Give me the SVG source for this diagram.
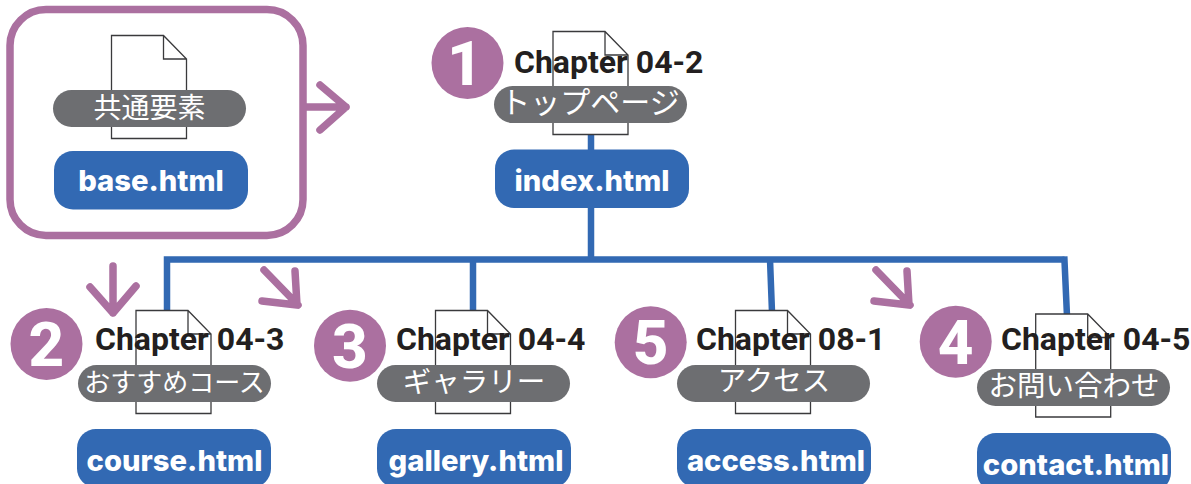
<svg xmlns="http://www.w3.org/2000/svg" width="1191" height="484" viewBox="0 0 1191 484">
<style>
.conn{fill:none;stroke:#3269b3;stroke-width:6.5}
.arr{fill:none;stroke:#ab70a0;stroke-width:7.500;stroke-linecap:round;stroke-linejoin:round}
.frame{fill:#fff;stroke:#ab70a0;stroke-width:7.500}
.doc{fill:#fff;stroke:#3a3a3c;stroke-width:1.300}
.pill{fill:#6d6e71}
.blue{fill:#3269b3}
.dot{fill:#ab70a0}
.num{font:800 62px Roboto,"Liberation Sans",sans-serif;fill:#fff;text-anchor:middle}
.ch{font:700 32px Roboto,"Liberation Sans",sans-serif;fill:#231f20}
.jp{font:400 28px "Noto Sans CJK JP",sans-serif;fill:#fff;text-anchor:middle}
.file{font:800 29.200px Inter,"Liberation Sans",sans-serif;fill:#fff;text-anchor:middle}
</style>
<defs>
<path id="d" class="doc" d="M0 0H52L75 23.500V103H0ZM52 0V23.500H75"/>
<rect id="p" class="pill" width="193" height="37" rx="18.500"/>
<rect id="b" class="blue" width="194" height="58.500" rx="19"/>
</defs>
<g id="connectors">
<path class="conn" d="M591 134V259.500M167 259.500H1064.500M167 256.300V312M473 259.500V312M770 259.500L772 312M1064.300 256.300L1067 316"/>
<path class="arr" d="M299 107H346M320 85L346 107L320 130"/>
<path class="arr" d="M113 266V313M90 287L113 313L136 286"/>
<path class="arr" d="M264 270L298 305M295 271L297 305L262 301"/>
<path class="arr" d="M876 270L910 305M907 271L909 305L874 301"/>
</g>
<g id="common">
<rect class="frame" x="10" y="9.500" width="293" height="226" rx="36"/>
<use href="#d" x="111.500" y="35.500"/>
<use href="#p" x="53" y="90"/>
<text class="jp" x="149.500" y="118">共通要素</text>
<use href="#b" x="54" y="151"/>
<text class="file" x="151" y="191">base.html</text>
</g>
<g id="index">
<circle class="dot" cx="467.500" cy="63" r="36"/>
<text class="num" x="465" y="85">1</text>
<use href="#d" x="553" y="31.500"/>
<text class="ch" x="514" y="73">Chapter 04-2</text>
<use href="#p" x="494" y="86"/>
<text class="jp" x="590" y="113" style="font-size:30px">トップページ</text>
<use href="#b" x="495" y="149.500"/>
<text class="file" x="592" y="191">index.html</text>
</g>
<g id="course">
<circle class="dot" cx="46.500" cy="344" r="36"/>
<text class="num" x="46.500" y="366">2</text>
<use href="#d" x="136" y="310.500"/>
<text class="ch" x="95" y="350">Chapter 04-3</text>
<use href="#p" x="78" y="365"/>
<text class="jp" x="174.500" y="392" style="font-size:26px">おすすめコース</text>
<use href="#b" x="77" y="429"/>
<text class="file" x="174.500" y="471">course.html</text>
</g>
<g id="gallery">
<circle class="dot" cx="350" cy="345.700" r="36"/>
<text class="num" x="350" y="367.700">3</text>
<use href="#d" x="435.500" y="310.500"/>
<text class="ch" x="396" y="350">Chapter 04-4</text>
<use href="#p" x="377" y="365"/>
<text class="jp" x="474" y="392" style="font-size:28.500px">ギャラリー</text>
<use href="#b" x="377" y="429"/>
<text class="file" x="476" y="471">gallery.html</text>
</g>
<g id="access">
<circle class="dot" cx="650.700" cy="342.300" r="36"/>
<text class="num" x="650.700" y="364.300">5</text>
<use href="#d" x="735.500" y="310.500"/>
<text class="ch" x="696" y="350">Chapter 08-1</text>
<use href="#p" x="677" y="365"/>
<text class="jp" x="774" y="391" style="font-size:28.500px">アクセス</text>
<use href="#b" x="677" y="429"/>
<text class="file" x="776" y="471">access.html</text>
</g>
<g id="contact">
<circle class="dot" cx="955.700" cy="341.700" r="36"/>
<text class="num" x="955.700" y="363.700">4</text>
<use href="#d" x="1035.700" y="314"/>
<text class="ch" x="1001" y="350">Chapter 04-5</text>
<use href="#p" x="977" y="369"/>
<text class="jp" x="1074" y="396" style="font-size:28.500px">お問い合わせ</text>
<use href="#b" x="977" y="433"/>
<text class="file" x="1076" y="475">contact.html</text>
</g>
</svg>
